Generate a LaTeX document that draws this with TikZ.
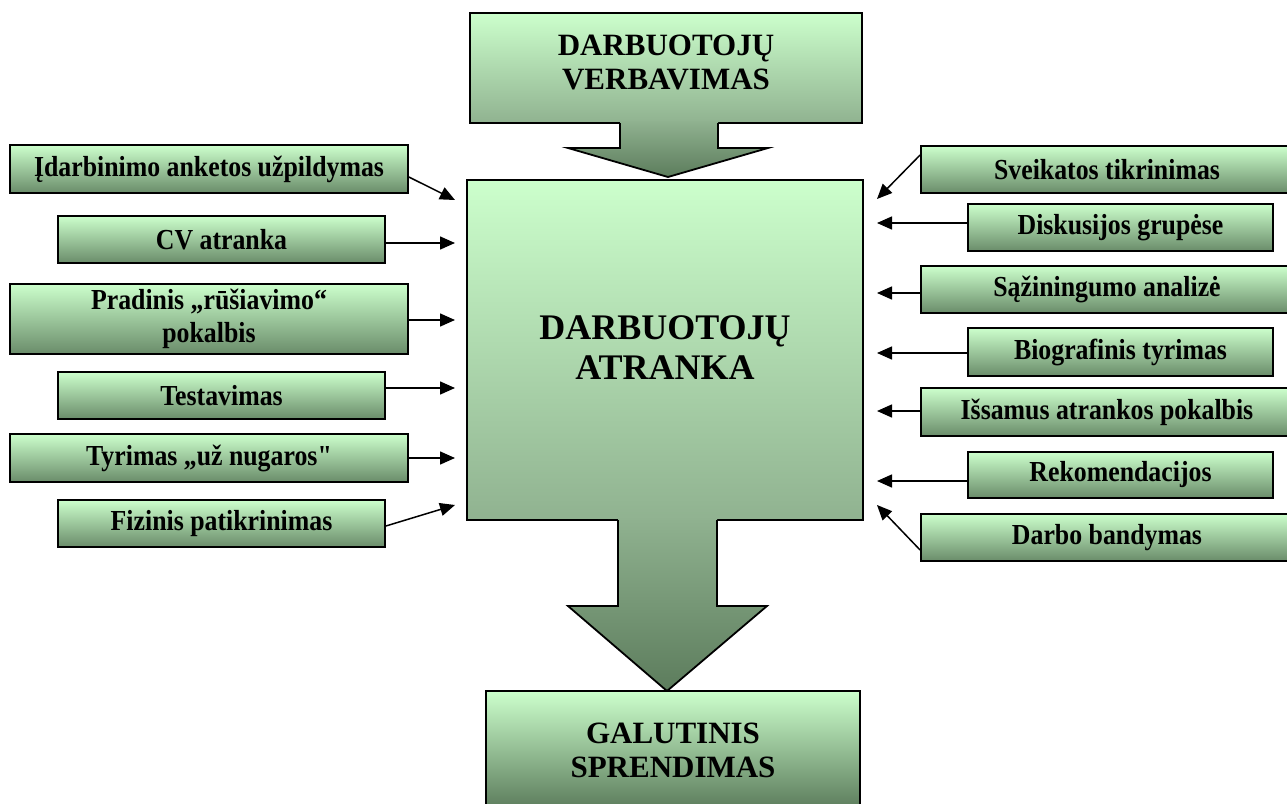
\documentclass[tikz,border=0pt]{standalone}
\usepackage{fontspec}
\setmainfont{Liberation Serif}
\newfontfamily\stagefont[FakeStretch=0.89]{Liberation Serif}
\usetikzlibrary{arrows.meta}

\definecolor{paleg}{HTML}{CCFFCC}
\definecolor{midg}{HTML}{90B290}
\definecolor{boxg}{HTML}{6A8C6A}
\definecolor{darkg}{HTML}{5C7C5C}

\begin{document}
\begin{tikzpicture}[x=1pt,y=-1pt,
  stage/.style={draw=black,line width=1.8pt,top color=paleg,bottom color=boxg,
    inner sep=0pt,minimum height=47pt,align=center,
    font=\stagefont\bfseries\fontsize{29}{33}\selectfont},
  lwide/.style={stage,minimum width=398pt},
  lnarrow/.style={stage,minimum width=327pt},
  rwide/.style={stage,minimum width=372pt},
  rnarrow/.style={stage,minimum width=305pt},
  bigbox/.style={draw=black,line width=1.8pt,inner sep=0pt,align=center,
    font=\bfseries\fontsize{31}{34}\selectfont},
  conn/.style={line width=1.5pt,-{Triangle[length=15pt,width=13pt]}}]

  \path[use as bounding box,fill=white] (0,0) rectangle (1287,803);

  % methods on the left side
  \node[lwide,minimum height=48pt] (idarb) at (209,169) {Įdarbinimo anketos užpildymas};
  \node[lnarrow] (cv) at (221.5,239.5) {CV atranka};
  \node[lwide,minimum height=70pt] (prad) at (209,319) {Pradinis „rūšiavimo“\\pokalbis};
  \node[lnarrow] (test) at (221.5,395.5) {Testavimas};
  \node[lwide,minimum height=48pt] (tyr) at (209,458) {Tyrimas „už nugaros"};
  \node[lnarrow] (fiz) at (221.5,523.5) {Fizinis patikrinimas};

  % methods on the right side
  \node[rwide] (svei) at (1107,169.5) {Sveikatos tikrinimas};
  \node[rnarrow] (disk) at (1120.5,227.5) {Diskusijos grupėse};
  \node[rwide] (saz) at (1107,289.5) {Sąžiningumo analizė};
  \node[rnarrow,minimum height=48pt] (bio) at (1120.5,352) {Biografinis tyrimas};
  \node[rwide,minimum height=48pt] (issa) at (1107,412) {Išsamus atrankos pokalbis};
  \node[rnarrow,minimum height=46pt] (rek) at (1120.5,475) {Rekomendacijos};
  \node[rwide] (darb) at (1107,537.5) {Darbo bandymas};

  % arrow tips next to the main box
  \coordinate (l1) at (455,200);
  \coordinate (l2) at (455,243);
  \coordinate (l3) at (455,320);
  \coordinate (l4) at (455,388);
  \coordinate (l5) at (455,458);
  \coordinate (l6) at (455,505);
  \coordinate (r1) at (877,199);
  \coordinate (r2) at (877,223);
  \coordinate (r3) at (877,293);
  \coordinate (r4) at (877,353);
  \coordinate (r5) at (877,411);
  \coordinate (r6) at (877,481);
  \coordinate (r7) at (877,505);

  \draw[conn] ([yshift=-8pt]idarb.east) -- (l1);
  \draw[conn] (cv.east |- l2) -- (l2);
  \draw[conn] (prad.east |- l3) -- (l3);
  \draw[conn] (test.east |- l4) -- (l4);
  \draw[conn] (tyr.east |- l5) -- (l5);
  \draw[conn] ([yshift=-2.5pt]fiz.east) -- (l6);

  \draw[conn] ([yshift=14.5pt]svei.west) -- (r1);
  \draw[conn] (disk.west |- r2) -- (r2);
  \draw[conn] (saz.west |- r3) -- (r3);
  \draw[conn] (bio.west |- r4) -- (r4);
  \draw[conn] (issa.west |- r5) -- (r5);
  \draw[conn] (rek.west |- r6) -- (r6);
  \draw[conn] ([yshift=-12.5pt]darb.west) -- (r7);

  % recruitment box with its arrow
  \node[bigbox,top color=paleg,bottom color=midg,minimum width=392pt,minimum height=110pt,
    text depth=12pt] (recr) at (666,68) {DARBUOTOJŲ\\VERBAVIMAS};
  \shade[top color=midg,bottom color=darkg]
    (620,121) -- (620,148) -- (568,148) -- (668,177) -- (768,148) -- (718,148) -- (718,121) -- cycle;
  \draw[line width=1.8pt]
    (620,123) -- (620,148) -- (568,148) -- (668,177) -- (768,148) -- (718,148) -- (718,123);

  % main selection box with its arrow
  \node[bigbox,top color=paleg,bottom color=midg,minimum width=396pt,minimum height=340pt,
    font=\bfseries\fontsize{36}{40}\selectfont,text depth=4pt] (main) at (665,350) {DARBUOTOJŲ\\ATRANKA};
  \shade[top color=midg,bottom color=darkg]
    (618,518) -- (618,606) -- (568,606) -- (667,691) -- (767,606) -- (717,606) -- (717,518) -- cycle;
  \draw[line width=1.8pt]
    (618,520) -- (618,606) -- (568,606) -- (667,691) -- (767,606) -- (717,606) -- (717,520);

  % final decision
  \node[bigbox,top color=paleg,bottom color=darkg,minimum width=374pt,minimum height=118pt]
    (final) at (673,750) {GALUTINIS\\SPRENDIMAS};
\end{tikzpicture}
\end{document}
